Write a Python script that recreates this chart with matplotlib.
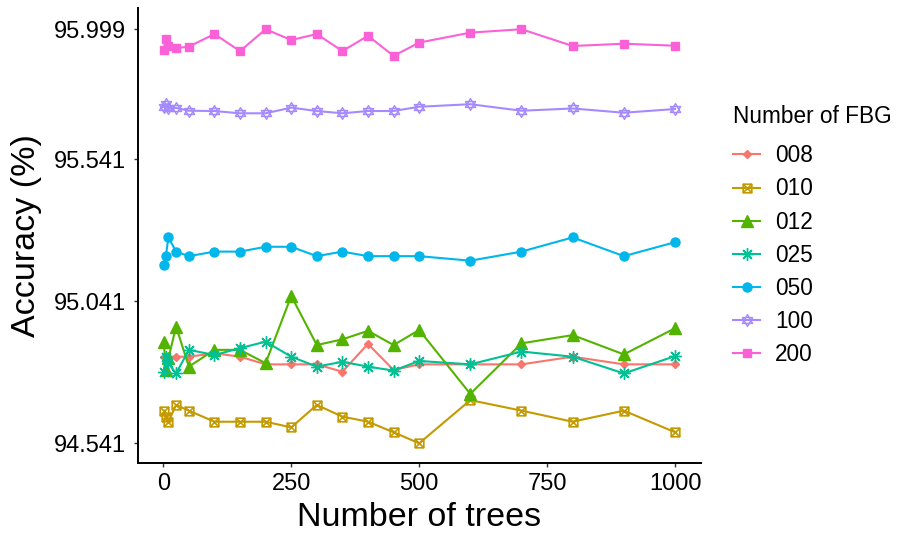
import numpy as np
import matplotlib
matplotlib.use("Agg")
import matplotlib.pyplot as plt
from matplotlib.path import Path

plt.rcParams["font.family"] = ["Liberation Sans", "DejaVu Sans"]

# data
trees = [1, 5, 10, 25, 50, 100, 150, 200, 250, 300, 350, 400, 450, 500,
         600, 700, 800, 900, 1000]
acc_008 = [94.846, 94.846, 94.846, 94.846, 94.846, 94.858, 94.846, 94.819, 94.819, 94.819,
           94.793, 94.891, 94.799, 94.819, 94.819, 94.819, 94.846, 94.819, 94.819]
acc_010 = [94.656, 94.635, 94.617, 94.676, 94.656, 94.617, 94.617, 94.617, 94.597, 94.676,
           94.635, 94.617, 94.580, 94.541, 94.693, 94.656, 94.617, 94.656, 94.580]
acc_012 = [94.899, 94.800, 94.840, 94.952, 94.811, 94.870, 94.870, 94.823, 95.060, 94.887,
           94.907, 94.937, 94.887, 94.940, 94.715, 94.893, 94.922, 94.854, 94.946]
acc_025 = [94.793, 94.846, 94.823, 94.787, 94.870, 94.852, 94.876, 94.899, 94.846, 94.811,
           94.828, 94.811, 94.797, 94.831, 94.819, 94.864, 94.846, 94.787, 94.848]
acc_050 = [95.169, 95.200, 95.266, 95.216, 95.200, 95.216, 95.216, 95.233, 95.233, 95.200,
           95.216, 95.200, 95.200, 95.200, 95.184, 95.216, 95.266, 95.200, 95.249]
acc_100 = [95.726, 95.735, 95.720, 95.722, 95.712, 95.711, 95.703, 95.703, 95.723, 95.711,
           95.703, 95.711, 95.711, 95.726, 95.735, 95.712, 95.720, 95.705, 95.718]
acc_200 = [95.926, 95.964, 95.940, 95.932, 95.938, 95.982, 95.922, 95.999, 95.961, 95.982,
           95.922, 95.976, 95.905, 95.952, 95.987, 95.999, 95.940, 95.948, 95.941]

fbg_labels = ["008", "010", "012", "025", "050", "100", "200"]
y_ticks = [94.541, 95.041, 95.541, 95.999]
x_ticks = [0, 250, 500, 750, 1000]

colors = ["#F8766D", "#C49A00", "#53B400", "#00C094", "#00B6EB", "#A58AFF", "#FB61D7"]

# custom markers like ggplot shapes 7 (square + x) and 11 (star of david)
sq_x = Path([(-1, -1), (1, -1), (1, 1), (-1, 1), (-1, -1),
             (-1, -1), (1, 1), (-1, 1), (1, -1)],
            [Path.MOVETO, Path.LINETO, Path.LINETO, Path.LINETO, Path.CLOSEPOLY,
             Path.MOVETO, Path.LINETO, Path.MOVETO, Path.LINETO])
david = Path([(0, 1), (-0.866, -0.5), (0.866, -0.5), (0, 1),
              (0, -1), (-0.866, 0.5), (0.866, 0.5), (0, -1)],
             [Path.MOVETO, Path.LINETO, Path.LINETO, Path.CLOSEPOLY,
              Path.MOVETO, Path.LINETO, Path.LINETO, Path.CLOSEPOLY])

styles = [
    dict(marker="D", ms=4.5, mfc=None),
    dict(marker=sq_x, ms=6.2, mfc="none", mew=1.2),
    dict(marker="^", ms=8, mfc=None),
    dict(marker=(8, 2, 0), ms=9, mew=1.0),
    dict(marker="o", ms=6.5, mfc=None),
    dict(marker=david, ms=8.5, mfc="none", mew=1.0),
    dict(marker="s", ms=6, mfc=None),
]
series = [acc_008, acc_010, acc_012, acc_025, acc_050, acc_100, acc_200]

fig = plt.figure(figsize=(8.97, 5.35), dpi=100)
ax = fig.add_axes([137.7 / 897, 1 - 463.3 / 535, (700.6 - 137.7) / 897, (463.3 - 8.3) / 535])

for lab, col, st, vals in zip(fbg_labels, colors, styles, series):
    kw = dict(color=col, lw=1.5, marker=st["marker"], markersize=st["ms"], label=lab)
    if st.get("mfc") is not None:
        kw["markerfacecolor"] = st["mfc"]
    if "mew" in st:
        kw["markeredgewidth"] = st["mew"]
    ax.plot(trees, vals, **kw)

ax.set_xlim(-50, 1050)
ax.set_ylim(94.4706, 96.0727)
ax.set_xticks(x_ticks)
ax.set_xticklabels([str(t) for t in x_ticks])
ax.set_yticks(y_ticks)
ax.set_yticklabels([f"{v:.3f}" for v in y_ticks])

for s in ["top", "right"]:
    ax.spines[s].set_visible(False)
for s in ["left", "bottom"]:
    ax.spines[s].set_linewidth(1.4)
    ax.spines[s].set_color("black")
ax.tick_params(axis="both", length=3.2, width=1.0, color="#333333",
               labelsize=17, labelcolor="black")
ax.tick_params(axis="y", pad=5.5)
ax.tick_params(axis="x", pad=3.5)

ax.set_xlabel("Number of trees", fontsize=24.5, labelpad=5)
ax.set_ylabel("Accuracy (%)", fontsize=24.5, labelpad=8)

leg = ax.legend(title="Number of FBG", loc="upper left",
                bbox_to_anchor=(733 / 897, 1 - 105 / 535), bbox_transform=fig.transFigure,
                frameon=False, fontsize=16.3, title_fontsize=16.3,
                handlelength=1.2, handletextpad=0.65, labelspacing=0.45,
                alignment="left", borderaxespad=0, borderpad=0)
leg._legend_box.sep = 11.7  # extra gap under the legend title

fig.savefig("out.png", dpi=100)
